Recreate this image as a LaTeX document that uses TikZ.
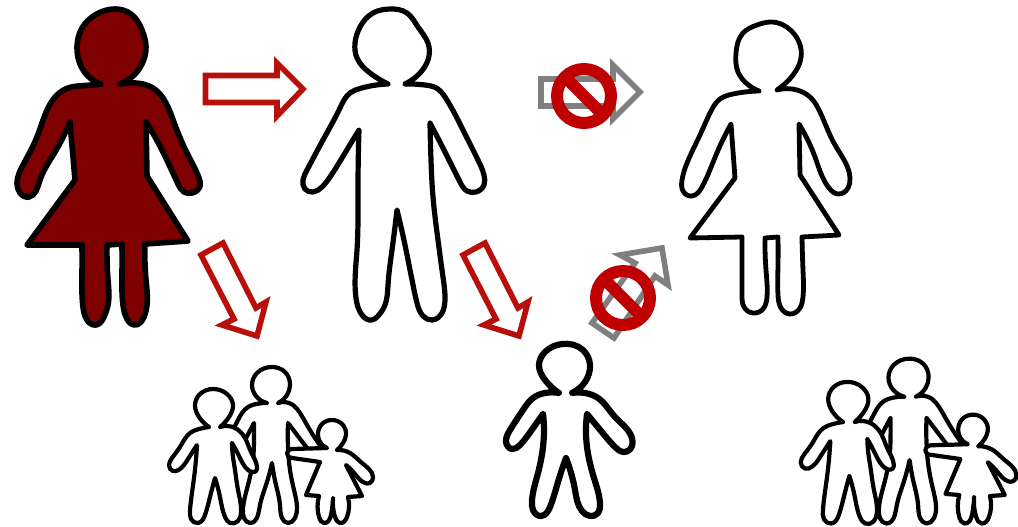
\documentclass[tikz,border=0pt]{standalone}
\usetikzlibrary{hobby}
\tikzset{
  person/.style={use Hobby shortcut,draw=black,fill=white,line join=round,line cap=round},
  blockred/.style={draw=arrowred,fill=white,line width=5.6pt,line join=miter,miter limit=10},
  blockgray/.style={draw=arrowgray,fill=white,line width=5.6pt,line join=miter,miter limit=10},
  banring/.style={draw=banred,line width=12pt},
}
\definecolor{arrowred}{HTML}{B90F0A}
\definecolor{arrowgray}{HTML}{7F7F7F}
\definecolor{banred}{HTML}{C00000}
\definecolor{darkfig}{HTML}{7F0000}
\newcommand{\nosign}[2]{
  \draw[banring] (#1,#2) circle (27);
  \draw[banring] (#1-19,#2-19) -- (#1+19,#2+19);
}
\newcommand{\familygroup}{
  % father
  \draw[person,line width=4.2pt]
    (267,403) .. (256,396) .. (252,385) .. (257,373) .. (272,367) .. (285,372) .. (290,385) .. (287,395) .. (278,403)
    -- (278,403) .. (293,405) .. (300,413) .. (307,425) .. (315,438) .. (323,450) .. (328,460)
    -- (307,448) -- (288,423)
    -- (288,423) .. (288,447) .. (290,470) .. (294,490) .. (297,507) .. (295,518) .. (288,523) .. (282,518) .. (280,505) .. (276,485) .. (272,463)
    -- (272,463) .. (266,485) .. (260,505) .. (258,515) .. (250,523) .. (244,518) .. (243,508) .. (248,485) .. (253,460) .. (254,440) .. (254,423)
    -- (245,440) -- (232,432)
    -- (232,432) .. (238,420) .. (248,407) .. (256,404) .. (267,403) -- cycle;
  % boy
  \draw[person,line width=4.2pt]
    (209,427) .. (199,417) .. (195,405) .. (200,394) .. (213,389) .. (227,394) .. (233,405) .. (229,417) .. (220,427)
    -- (220,427) .. (235,428) .. (245,438) .. (251,452) .. (257,467) .. (256,471) .. (252,472) .. (246,468) .. (239,456) .. (232,443)
    -- (232,443) .. (233,457) .. (235,470) .. (238,490) .. (241,513) .. (238,521) .. (230,523) .. (225,517) .. (220,497) .. (215,478)
    -- (215,478) .. (210,497) .. (205,515) .. (198,523) .. (191,519) .. (190,510) .. (194,478) .. (197,445)
    -- (197,445) .. (188,459) .. (180,469) .. (173,471) .. (169,465) .. (172,458) .. (180,447) .. (190,433) .. (199,429) .. (209,427) -- cycle;
  % girl
  \draw[person,line width=4.2pt]
    (327,448) .. (320,442) .. (318,435) .. (322,424) .. (332,420) .. (342,424) .. (346,435) .. (343,443) .. (337,450)
    -- (337,450) .. (350,453) .. (362,463) .. (373,477) .. (370,483) .. (365,483) .. (355,474) .. (346,465)
    -- (362,496) -- (348,497)
    -- (348,497) .. (347,517) .. (340,523) .. (335,517) .. (333,498)
    -- (333,498) .. (331,515) .. (324,523) .. (319,517) .. (319,496)
    -- (306,495) -- (320,462) -- (292,458)
    -- (292,458) .. (287,453) .. (292,449)
    -- (327,448) -- cycle;
}
\begin{document}
\begin{tikzpicture}[x=1pt,y=-1pt]
\useasboundingbox (0,0) rectangle (1018,527);
\clip (0,0) rectangle (1018,527);
\fill[white] (0,0) rectangle (1018,527);

% dark woman
\draw[person,fill=darkfig,line width=5.6pt]
  (101,84) .. (90,78) .. (80,64) .. (77,47) .. (82,28) .. (95,15) .. (115,9) .. (131,14) .. (142,30) .. (146,47) .. (142,64) .. (132,77) .. (120,84)
  -- (120,84) .. (140,83.5) .. (153,88) .. (166,103) .. (175,125) .. (188,155) .. (199,178) .. (200,186) .. (192,193) .. (184,192) .. (178,184) .. (163,152) .. (146,122)
  -- (147,176) -- (188,241) -- (145,244)
  -- (145,244) .. (146,280) .. (147,305) .. (144,317) .. (135,325) .. (127,319) .. (123,305) .. (122,275) .. (122,244)
  -- (107,245)
  -- (107,245) .. (108,280) .. (108,305) .. (104,317) .. (96,325) .. (87,320) .. (83,307) .. (82,275) .. (82,245)
  -- (27,245) -- (75,180) -- (70,122)
  -- (70,122) .. (55,152) .. (40,180) .. (36,191) .. (29,197) .. (20,193) .. (17,183) .. (23,165) .. (37,137) .. (48,108) .. (57,95) .. (68,88) .. (85,85.5) .. (101,84) -- cycle;

% man
\draw[person,line width=5.2pt]
  (388,84) .. (370,73) .. (357,58) .. (355,43) .. (360,27) .. (373,13) .. (390,9) .. (407,13) .. (418,27) .. (428,43) .. (428,60) .. (420,73) .. (405,84)
  -- (405,84) .. (425,85) .. (438,89) .. (445,97) .. (463,130) .. (478,160) .. (484,175) .. (484,185) .. (476,192) .. (467,191) .. (460,182) .. (445,152) .. (430,123)
  -- (430,123) .. (431,160) .. (433,197) .. (438,240) .. (443,277) .. (445,300) .. (442,313) .. (432,320) .. (423,316) .. (417,303) .. (413,285) .. (405,245) .. (397,210)
  -- (397,210) .. (392,250) .. (388,285) .. (385,305) .. (378,316) .. (372,320) .. (362,315) .. (356,298) .. (357,250) .. (358,190) .. (359,130)
  -- (359,130) .. (345,153) .. (330,177) .. (322,187) .. (313,192) .. (305,189) .. (303,180) .. (307,170) .. (323,140) .. (340,108) .. (350,93) .. (360,88.5) .. (388,84) -- cycle;

% second woman
\draw[person,line width=4.8pt]
  (759,91) .. (745,82) .. (738,72) .. (736,53) .. (743,33) .. (757,25) .. (772,22) .. (788,28) .. (799,42) .. (801,58) .. (793,75) .. (777,90)
  -- (777,90) .. (797,90) .. (810,97) .. (820,112) .. (835,145) .. (850,178) .. (848,188) .. (838,194) .. (829,188) .. (815,157) .. (799,124)
  -- (800,175) -- (839,235) -- (802,237)
  -- (802,237) .. (803,270) .. (803,297) .. (800,308) .. (790,314) .. (781,308) .. (778,295) .. (778,265) .. (778,237)
  -- (765,238)
  -- (765,238) .. (766,270) .. (767,297) .. (763,309) .. (753,313) .. (744,307) .. (742,295) .. (742,265) .. (742,237)
  -- (690,238) -- (735,178) -- (731,124)
  -- (731,124) .. (716,155) .. (702,187) .. (692,196) .. (683,191) .. (682,180) .. (687,163) .. (700,135) .. (711,111) .. (720,99) .. (733,94) .. (759,91) -- cycle;

% child
\draw[person,line width=6.2pt]
  (559,393) .. (545,380) .. (539,365) .. (545,352) .. (562,344) .. (583,350) .. (590,365) .. (585,382) .. (572,393)
  -- (572,393) .. (585,393) .. (598,398) .. (615,417) .. (632,438) .. (632,446) .. (624,452) .. (615,447) .. (601,431) .. (587,414)
  -- (587,414) .. (587,447) .. (594,478) .. (600,505) .. (598,513) .. (590,516) .. (582,511) .. (575,490) .. (566,458)
  -- (566,458) .. (558,482) .. (550,507) .. (541,516) .. (533,510) .. (532,500) .. (538,473) .. (543,447) .. (544,430) .. (543,414)
  -- (543,414) .. (531,431) .. (520,445) .. (512,449) .. (506,441) .. (510,430) .. (523,410) .. (533,398) .. (545,393) .. (559,393) -- cycle;

% families
\begin{scope}
  \familygroup
\end{scope}
\begin{scope}[shift={(622.1,-29.3)},scale=1.057]
  \familygroup
\end{scope}

% red arrows
\draw[blockred] (205.5,75.5) -- (277,75.5) -- (277,63) -- (303,89) -- (277,116) -- (277,102.5) -- (205.5,102.5) -- cycle;
\draw[blockred] (201,255) -- (223,243) -- (256,308) -- (266,302) -- (257,336) -- (222,325) -- (234,319) -- cycle;
\draw[blockred] (463,255) -- (485,243) -- (518,308) -- (528,302) -- (519,336) -- (484,325) -- (496,319) -- cycle;

% gray arrows
\draw[blockgray] (541,79) -- (613,79) -- (613,65) -- (640,92) -- (613,119) -- (613,106) -- (541,106) -- cycle;
\draw[blockgray] (592,323) -- (635,263) -- (620,255) -- (662,248) -- (668,285) -- (655,276) -- (614,338) -- cycle;

% prohibition signs
\nosign{584}{96}
\nosign{623}{298}
\end{tikzpicture}
\end{document}
